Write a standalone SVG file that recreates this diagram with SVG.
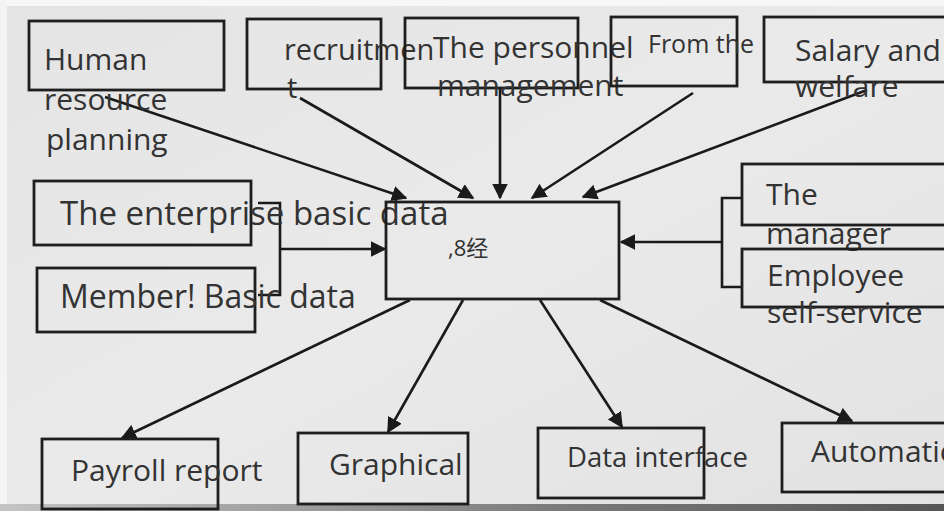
<svg xmlns="http://www.w3.org/2000/svg" width="944" height="511" viewBox="0 0 944 511">
  <defs>
    <marker id="arrow" viewBox="0 0 10 10" refX="9" refY="5" markerWidth="6" markerHeight="6" markerUnits="strokeWidth" orient="auto">
      <path d="M0,0 L10,5 L0,10 z" fill="#1a1a1a"/>
    </marker>
    <linearGradient id="bg" x1="0" y1="0" x2="1" y2="1">
      <stop offset="0" stop-color="#e4e4e4"/>
      <stop offset="0.5" stop-color="#eaeaea"/>
      <stop offset="1" stop-color="#e2e2e2"/>
    </linearGradient>
    <linearGradient id="band" x1="0" y1="0" x2="1" y2="0">
      <stop offset="0" stop-color="#c4c4c4"/>
      <stop offset="0.6" stop-color="#7a7a7a"/>
      <stop offset="1" stop-color="#555555"/>
    </linearGradient>
    <style>
      .box { fill: none; stroke: #1e1e1e; stroke-width: 2.8; }
      .lbl { font-family: "Open Sans", "Noto Sans", "Noto Sans CJK SC", sans-serif; fill: #333333; font-size: 30px; }
      .conn { fill: none; stroke: #1a1a1a; stroke-width: 2.6; }
      .arr { marker-end: url(#arrow); }
    </style>
  </defs>

  <!-- backdrop -->
  <rect x="0" y="0" width="944" height="511" fill="url(#bg)"/>
  <rect x="0" y="0" width="944" height="6" fill="#f7f7f7"/>
  <rect x="0" y="0" width="7" height="511" fill="#f4f4f4"/>
  <rect x="0" y="504" width="944" height="7" fill="url(#band)"/>

  <!-- connectors -->
  <g id="connectors">
    <!-- inputs from the top row -->
    <line class="conn arr" x1="105" y1="97" x2="406" y2="198"/>
    <line class="conn arr" x1="300" y1="98" x2="473" y2="198"/>
    <line class="conn arr" x1="500" y1="88" x2="500" y2="198"/>
    <line class="conn arr" x1="693" y1="93" x2="532" y2="198"/>
    <line class="conn arr" x1="867" y1="90" x2="583" y2="197"/>
    <!-- basic data bracket on the left -->
    <polyline class="conn" points="258,203 280,203 280,295 258,295"/>
    <line class="conn arr" x1="280" y1="249" x2="385" y2="249"/>
    <!-- manager / self-service bracket on the right -->
    <polyline class="conn" points="742,198 722,198 722,287 742,287"/>
    <line class="conn arr" x1="722" y1="242" x2="621" y2="242"/>
    <!-- outputs to the bottom row -->
    <line class="conn arr" x1="410" y1="300" x2="122" y2="438"/>
    <line class="conn arr" x1="463" y1="300" x2="388" y2="432"/>
    <line class="conn arr" x1="540" y1="300" x2="622" y2="427"/>
    <line class="conn arr" x1="600" y1="300" x2="852" y2="421"/>
  </g>

  <!-- top row -->
  <g id="hr-planning">
    <rect class="box" x="29" y="21" width="195" height="69"/>
    <text class="lbl" x="44" y="70">Human</text>
    <text class="lbl" x="44" y="110">resource</text>
    <text class="lbl" x="46" y="150">planning</text>
  </g>
  <g id="recruitment">
    <rect class="box" x="247" y="19" width="134" height="70"/>
    <text class="lbl" x="284" y="60" style="font-size:29px">recruitmen</text>
    <text class="lbl" x="287" y="98" style="font-size:29px">t</text>
  </g>
  <g id="personnel">
    <rect class="box" x="405" y="18" width="173" height="70"/>
    <text class="lbl" x="433" y="58">The personnel</text>
    <text class="lbl" x="437" y="96">management</text>
  </g>
  <g id="from-the">
    <rect class="box" x="611" y="17" width="126" height="69"/>
    <text class="lbl" x="648" y="53" style="font-size:25px">From the</text>
  </g>
  <g id="salary">
    <rect class="box" x="764" y="17" width="190" height="65"/>
    <text class="lbl" x="795" y="61">Salary and</text>
    <text class="lbl" x="795" y="97">welfare</text>
  </g>

  <!-- left column -->
  <g id="enterprise-data">
    <rect class="box" x="34" y="181" width="217" height="64"/>
    <text class="lbl" x="60" y="225" style="font-size:33px">The enterprise basic data</text>
  </g>
  <g id="member-data">
    <rect class="box" x="37" y="268" width="218" height="64"/>
    <text class="lbl" x="60" y="308" style="font-size:32px">Member! Basic data</text>
  </g>

  <!-- centre -->
  <g id="centre">
    <rect class="box" x="386" y="202" width="233" height="97"/>
    <text class="lbl" x="448" y="256" style="font-size:22px">,8经</text>
  </g>

  <!-- right column -->
  <g id="manager">
    <rect class="box" x="742" y="164" width="212" height="61"/>
    <text class="lbl" x="766" y="205">The</text>
    <text class="lbl" x="766" y="244">manager</text>
  </g>
  <g id="self-service">
    <rect class="box" x="742" y="249" width="212" height="58"/>
    <text class="lbl" x="767" y="286">Employee</text>
    <text class="lbl" x="767" y="323">self-service</text>
  </g>

  <!-- bottom row -->
  <g id="payroll">
    <rect class="box" x="42" y="439" width="176" height="70"/>
    <text class="lbl" x="71" y="481">Payroll report</text>
  </g>
  <g id="graphical">
    <rect class="box" x="298" y="433" width="170" height="71"/>
    <text class="lbl" x="329" y="475">Graphical</text>
  </g>
  <g id="data-interface">
    <rect class="box" x="538" y="428" width="166" height="70"/>
    <text class="lbl" x="567" y="467" style="font-size:27.5px">Data interface</text>
  </g>
  <g id="automation">
    <rect class="box" x="782" y="423" width="172" height="69"/>
    <text class="lbl" x="811" y="462">Automatic</text>
  </g>
</svg>
